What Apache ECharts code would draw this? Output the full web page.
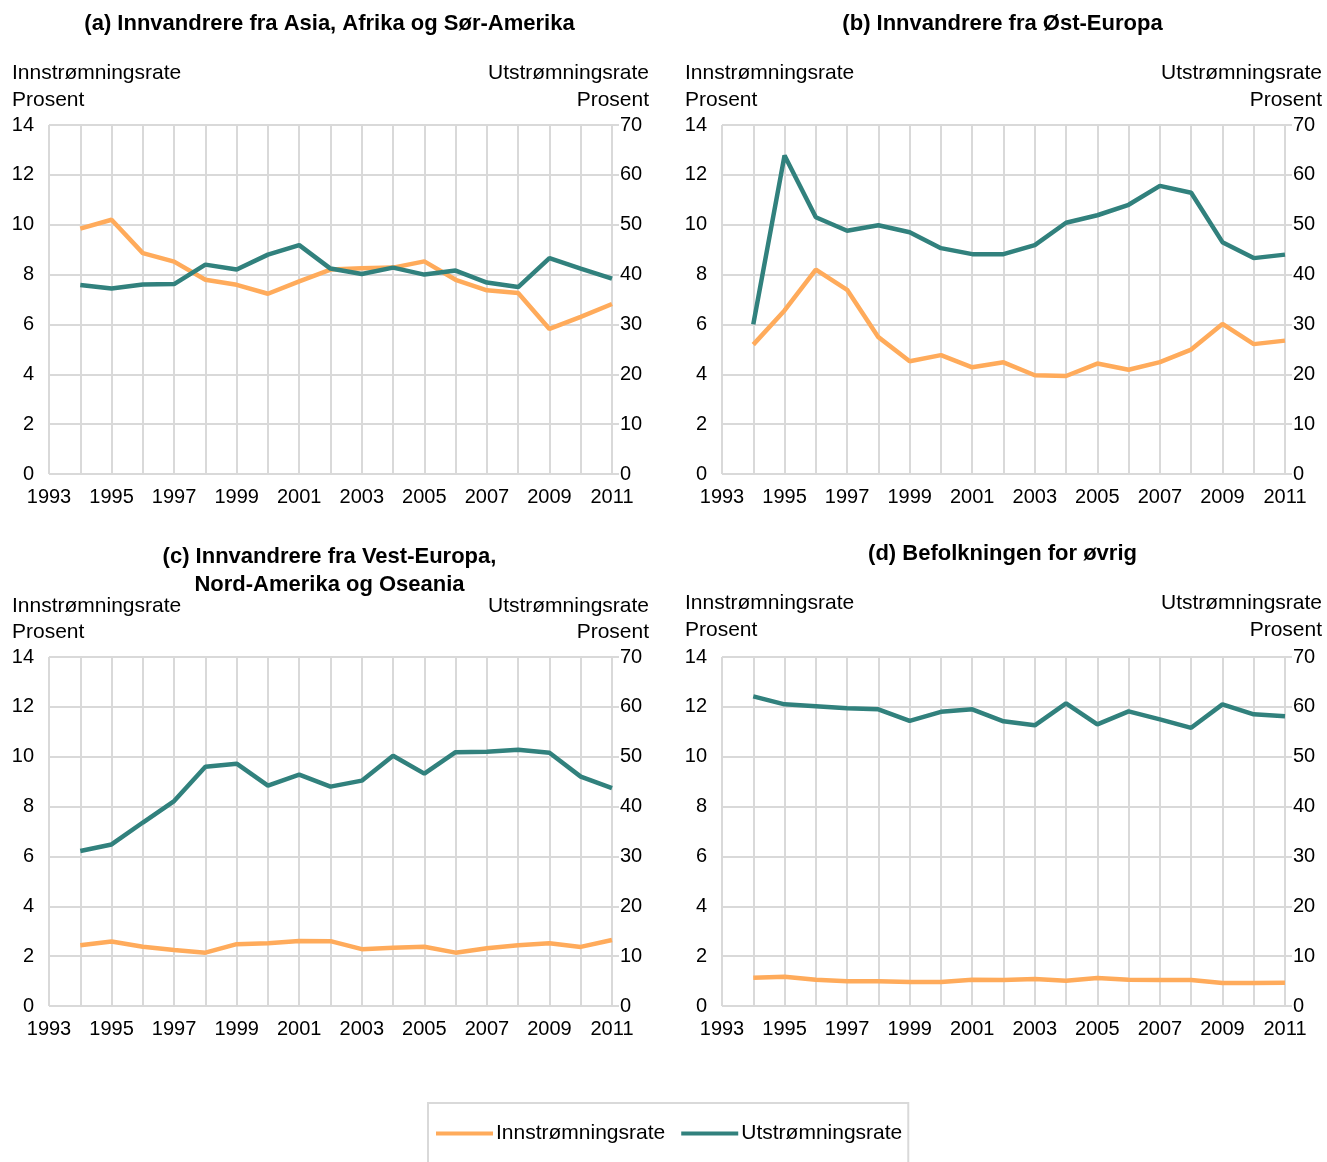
<!DOCTYPE html>
<html>
<head>
<meta charset="utf-8">
<script src="https://cdn.jsdelivr.net/npm/echarts@6/dist/echarts.min.js"></script>
<style>
  html, body { margin: 0; padding: 0; background: #fff; }
  #chart { width: 1327px; height: 1162px; }
</style>
</head>
<body>
<div id="chart"></div>
<script>
// år
const years = [1994, 1995, 1996, 1997, 1998, 1999, 2000, 2001, 2002, 2003, 2004, 2005, 2006, 2007, 2008, 2009, 2010, 2011];

// (a) Asia, Afrika og Sør-Amerika
const innA = [9.84, 10.2, 8.86, 8.52, 7.79, 7.59, 7.23, 7.73, 8.2, 8.25, 8.28, 8.53, 7.79, 7.37, 7.26, 5.82, 6.3, 6.82];
const utA = [37.9, 37.2, 38.0, 38.1, 42.0, 41.0, 44.0, 45.9, 41.2, 40.1, 41.4, 40.0, 40.8, 38.4, 37.5, 43.3, 41.2, 39.2];

// (b) Øst-Europa
const innB = [5.19, 6.56, 8.2, 7.39, 5.49, 4.52, 4.77, 4.28, 4.48, 3.96, 3.93, 4.43, 4.18, 4.49, 4.99, 6.02, 5.21, 5.35];
const utB = [30.0, 63.9, 51.5, 48.8, 49.9, 48.5, 45.3, 44.1, 44.1, 45.9, 50.4, 51.9, 54.0, 57.8, 56.4, 46.5, 43.3, 44.0];

// (c) Vest-Europa, Nord-Amerika og Oseania
const innC = [2.44, 2.59, 2.38, 2.25, 2.14, 2.48, 2.52, 2.61, 2.6, 2.28, 2.34, 2.38, 2.14, 2.32, 2.44, 2.52, 2.37, 2.65];
const utC = [31.1, 32.4, 36.8, 41.1, 48.0, 48.6, 44.2, 46.4, 44.0, 45.2, 50.2, 46.6, 50.9, 51.0, 51.4, 50.8, 46.0, 43.7];

// (d) Befolkningen for øvrig
const innD = [1.13, 1.17, 1.05, 0.99, 0.99, 0.96, 0.96, 1.05, 1.04, 1.08, 1.01, 1.12, 1.05, 1.04, 1.04, 0.92, 0.92, 0.93];
const utD = [62.1, 60.5, 60.1, 59.7, 59.5, 57.2, 59.0, 59.5, 57.1, 56.3, 60.7, 56.5, 59.1, 57.5, 55.8, 60.5, 58.5, 58.1];

const titles = [
    ['(a) Innvandrere fra Asia, Afrika og Sør-Amerika'],
    ['(b) Innvandrere fra Øst-Europa'],
    ['(c) Innvandrere fra Vest-Europa,', 'Nord-Amerika og Oseania'],
    ['(d) Befolkningen for øvrig']
];
const innName = 'Innstrømningsrate';
const utName = 'Utstrømningsrate';
const unitName = 'Prosent';

const inn = [innA, innB, innC, innD];
const ut = [utA, utB, utC, utD];

const ORANGE = '#FFAB5B';
const TEAL = '#31817D';
const GRID = '#d9d9d9';
const FONT = '"Liberation Sans", Arial, sans-serif';

const panels = [
    { left: 49, top: 125, titleY: [24], nameY: [73, 100] },
    { left: 722, top: 125, titleY: [24], nameY: [73, 100] },
    { left: 49, top: 657, titleY: [557, 585], nameY: [606, 632] },
    { left: 722, top: 657, titleY: [554], nameY: [603, 630] }
];
const W = 563, H = 349;

const pairs = (vals) => vals.map((v, i) => [years[i], v]);

const grid = [], xAxis = [], yAxis = [], series = [], graphic = [];

panels.forEach((p, i) => {
    grid.push({ left: p.left, top: p.top, width: W, height: H });
    xAxis.push({
        type: 'value', gridIndex: i, min: 1993, max: 2011, interval: 1,
        axisLine: { show: false }, axisTick: { show: false },
        splitLine: { show: true, lineStyle: { color: GRID, width: 2 } },
        axisLabel: {
            color: '#000', fontSize: 20, fontFamily: FONT, margin: 13,
            formatter: (v) => ((v - 1993) % 2 === 0 ? String(v) : '')
        }
    });
    yAxis.push({
        type: 'value', gridIndex: i, min: 0, max: 14, interval: 2, position: 'left',
        axisLine: { show: false }, axisTick: { show: false },
        splitLine: { show: true, lineStyle: { color: GRID, width: 2 } },
        axisLabel: { color: '#000', fontSize: 20, fontFamily: FONT, margin: 15 }
    });
    yAxis.push({
        type: 'value', gridIndex: i, min: 0, max: 70, interval: 10, position: 'right',
        axisLine: { show: false },
        axisTick: { show: true, length: 7, lineStyle: { color: GRID, width: 2 } },
        splitLine: { show: false },
        axisLabel: { color: '#000', fontSize: 20, fontFamily: FONT, margin: 8 }
    });
    series.push({
        name: innName, type: 'line', xAxisIndex: i, yAxisIndex: i * 2,
        data: pairs(inn[i]), showSymbol: false, silent: true,
        lineStyle: { color: ORANGE, width: 4.5 }, itemStyle: { color: ORANGE }
    });
    series.push({
        name: utName, type: 'line', xAxisIndex: i, yAxisIndex: i * 2 + 1,
        data: pairs(ut[i]), showSymbol: false, silent: true,
        lineStyle: { color: TEAL, width: 4.5 }, itemStyle: { color: TEAL }
    });

    const cx = p.left + W / 2 - 1;
    titles[i].forEach((t, k) => {
        graphic.push({
            type: 'text', x: cx, y: p.titleY[k],
            style: { text: t, fill: '#000', font: 'bold 22px ' + FONT, textAlign: 'center', textVerticalAlign: 'middle' }
        });
    });
    const lx = p.left - 37, rx = p.left + W + 37;
    const nameFont = '21px ' + FONT;
    graphic.push({ type: 'text', x: lx, y: p.nameY[0], style: { text: innName, fill: '#000', font: nameFont, textVerticalAlign: 'middle' } });
    graphic.push({ type: 'text', x: lx, y: p.nameY[1], style: { text: unitName, fill: '#000', font: nameFont, textVerticalAlign: 'middle' } });
    graphic.push({ type: 'text', x: rx, y: p.nameY[0], style: { text: utName, fill: '#000', font: nameFont, textAlign: 'right', textVerticalAlign: 'middle' } });
    graphic.push({ type: 'text', x: rx, y: p.nameY[1], style: { text: unitName, fill: '#000', font: nameFont, textAlign: 'right', textVerticalAlign: 'middle' } });
});

const chart = echarts.init(document.getElementById('chart'), null, { renderer: 'canvas' });
chart.setOption({
    animation: false,
    backgroundColor: '#fff',
    grid: grid,
    xAxis: xAxis,
    yAxis: yAxis,
    series: series,
    graphic: graphic,
    legend: {
        data: [innName, utName],
        left: 428, top: 1103,
        padding: [20, 6, 30, 8],
        borderColor: GRID, borderWidth: 2,
        icon: 'rect', itemWidth: 57, itemHeight: 4, itemGap: 16,
        textStyle: { color: '#000', fontSize: 21, fontFamily: FONT, padding: [0, 0, 0, -2] }
    }
});
</script>
</body>
</html>
